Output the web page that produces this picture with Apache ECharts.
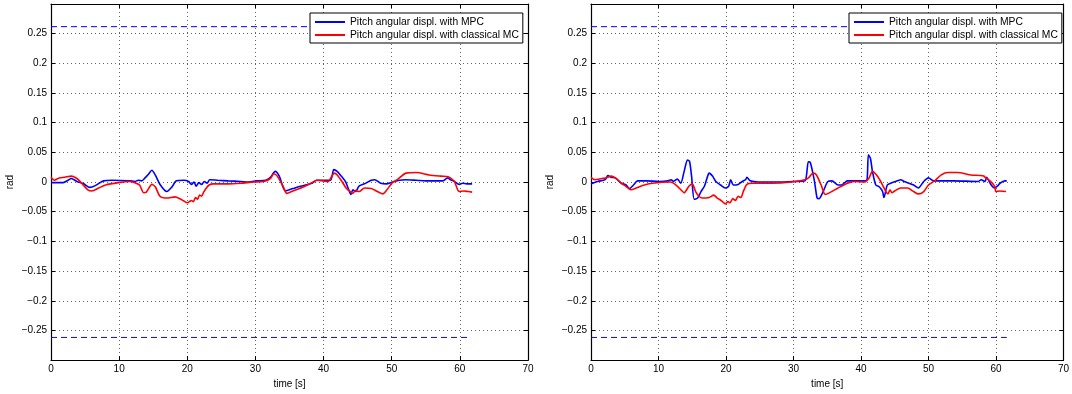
<!DOCTYPE html>
<html>
<head>
<meta charset="utf-8">
<script src="https://cdn.jsdelivr.net/npm/echarts@6/dist/echarts.min.js"></script>
<style>html,body{margin:0;padding:0;background:#fff;}#c{width:1072px;height:394px;}</style>
</head>
<body>
<div id="c"></div>
<script>
// ---------- data ----------
var seriesNames = ['Pitch angular displ. with MPC', 'Pitch angular displ. with classical MC'];
var xTicks = [0, 10, 20, 30, 40, 50, 60, 70];
var yTicks = [-0.25, -0.2, -0.15, -0.1, -0.05, 0, 0.05, 0.1, 0.15, 0.2, 0.25];
var pitchLimit = 0.2618;       // dashed limit lines (rad)
var limitEnd = 61.6;           // s

// Left plot, MPC
var leftMpcT = [0,0.8,1.8,2.5,3.0,3.8,4.8,5.7,6.5,7.7,9,11.6,12.3,12.8,13.3,13.8,14.3,14.8,15.3,16.0,17.0,17.7,18.4,19.5,20.2,20.6,21.0,21.3,21.7,22.1,22.5,22.9,23.3,24.5,26,27.8,29,30.2,31.5,32.2,32.9,33.5,34.4,35.5,36.6,38.3,39.0,41.0,41.5,42.0,42.6,43.2,43.7,44.0,44.3,44.7,45.2,46.0,47.0,47.5,48.4,49.2,50.1,51.1,52.1,53.6,55,57.5,58.2,58.6,59.2,59.9,60.4,61.0,61.8];
var leftMpcV = [-0.001,-0.001,-0.001,0.003,0.006,0.001,-0.003,-0.009,-0.006,0.002,0.003,0.002,0.001,0.003,0.002,0.007,0.013,0.020,0.012,-0.004,-0.016,-0.009,0.002,0.003,0.001,-0.004,0,-0.007,-0.001,-0.004,0.001,-0.002,0.004,0.003,0.002,0.001,0,0.002,0.003,0.008,0.018,0.010,-0.015,-0.011,-0.007,-0.002,0.003,0.003,0.021,0.018,0.010,0.001,-0.013,-0.021,-0.013,-0.016,-0.007,-0.003,0.003,0.004,-0.002,-0.003,0,0.003,0.004,0.003,0.002,0.002,0.007,0.004,0.001,-0.004,-0.002,-0.003,-0.003];

// Left plot, classical MC
var leftMcT = [0,0.5,1.2,2.0,3.0,3.8,4.5,5.4,6.0,7.0,8.0,9.9,11.5,12.3,13.0,13.6,14.0,14.8,15.3,16.0,17.0,18.2,18.9,19.5,20.0,20.3,20.6,20.9,21.2,21.5,21.8,22.1,22.4,22.8,23.2,23.8,26,27.8,29.7,31.2,32.2,32.7,33.2,34.1,34.6,35.5,37.1,38.3,39.0,40.7,41.2,41.6,42.0,42.7,43.3,43.9,44.3,44.7,45.2,46.0,47.0,47.9,48.7,49.3,50.1,50.8,52.1,53.6,55.5,57.2,58.3,58.6,59.2,59.9,60.6,61.2,61.8];
var leftMcV = [0.008,0.003,0.007,0.008,0.010,0.006,-0.002,-0.013,-0.015,-0.010,-0.005,-0.001,0.001,-0.001,-0.005,-0.018,-0.017,-0.004,-0.008,-0.024,-0.027,-0.025,-0.028,-0.032,-0.035,-0.033,-0.031,-0.033,-0.026,-0.029,-0.022,-0.024,-0.017,-0.010,-0.005,-0.003,-0.003,-0.002,0,0.001,0.006,0.014,0.010,-0.008,-0.019,-0.015,-0.008,-0.001,0.003,0.001,0.010,0.015,0.012,0.001,-0.010,-0.016,-0.019,-0.014,-0.016,-0.010,-0.011,-0.016,-0.020,-0.013,-0.001,0.004,0.015,0.016,0.012,0.010,0.009,0.007,0.001,-0.016,-0.015,-0.016,-0.017];

// Right plot, MPC
var rightMpcT = [0,1.0,2.1,2.5,3.0,3.6,4.5,5.2,5.7,6.3,6.9,8.2,10.1,11.4,11.9,12.2,12.8,13.3,13.8,14.3,14.6,14.9,15.3,15.8,16.3,16.8,17.2,17.5,18.0,18.5,19.2,19.9,20.4,20.7,21.1,21.8,22.4,22.9,23.1,23.6,24.8,27.8,30.2,31.7,32.2,32.5,33.1,33.5,33.8,34.4,35.1,35.7,36.6,37.1,38.0,40.5,40.9,41.1,41.4,41.7,42.2,42.7,43.2,43.4,43.9,44.4,45.4,45.9,46.4,47.8,48.5,49.3,50.0,50.8,53.7,57.4,57.8,58.4,58.6,59.3,59.8,60.2,60.6,61.3,61.6];
var rightMpcV = [-0.003,0.001,0.004,0.011,0.008,0.007,-0.002,-0.005,-0.011,-0.005,0.002,0.002,0.001,0.002,0.004,0.001,0.005,-0.002,0.018,0.037,0.035,0.010,-0.029,-0.027,-0.016,-0.007,0.007,0.015,0.010,0.001,-0.005,-0.010,-0.007,0.004,-0.005,-0.004,0.001,0.004,0.008,0.002,0,0,0.001,0.002,0.034,0.033,0.002,-0.027,-0.028,-0.016,0.001,0.002,-0.005,-0.005,0.002,0.002,0.004,0.046,0.040,0.018,-0.005,-0.008,-0.016,-0.026,-0.005,-0.002,0.002,0.004,0.001,-0.005,-0.010,0.001,0.007,0.002,0.002,0.001,0.004,0.001,0.008,-0.005,-0.010,-0.007,-0.002,0.002,0.002];

// Right plot, classical MC
var rightMcT = [0,0.6,1.6,2.3,3.0,3.6,4.5,5.5,5.9,6.9,7.9,9.1,11.8,12.6,13.3,13.8,14.5,15.0,15.5,16.0,16.5,17.5,18.2,18.7,19.4,19.9,20.3,20.6,21.0,21.4,21.8,22.2,22.6,23.1,23.8,26.8,29.7,31.7,32.3,32.9,33.4,34.1,34.7,35.5,36.6,38.0,39.0,40.5,41.2,41.7,42.5,43.2,43.7,44.0,44.3,44.6,45.0,45.9,46.9,47.8,48.5,49.3,50.0,50.8,51.9,52.9,54.3,56.3,57.7,58.2,58.4,59.2,59.8,60.0,60.6,61.5];
var rightMcV = [0.008,0.004,0.006,0.007,0.010,0.007,-0.002,-0.010,-0.013,-0.009,-0.005,-0.002,0,-0.005,-0.013,-0.018,-0.007,-0.003,-0.016,-0.024,-0.027,-0.026,-0.022,-0.027,-0.032,-0.037,-0.033,-0.035,-0.028,-0.031,-0.024,-0.026,-0.015,-0.004,-0.002,-0.002,0,0.004,0.008,0.015,0.012,-0.005,-0.021,-0.017,-0.010,-0.002,0.001,0,0.007,0.018,0.009,-0.005,-0.016,-0.020,-0.013,-0.018,-0.015,-0.010,-0.010,-0.016,-0.020,-0.016,-0.005,0.001,0.012,0.016,0.016,0.012,0.011,0.010,0.008,0.001,-0.007,-0.016,-0.015,-0.016];

// ---------- chart ----------
function zip(t, v) { return t.map(function (x, i) { return [x, v[i]]; }); }
var FONT = 'Liberation Sans, Arial, Helvetica, sans-serif';
var BLUE = '#0000ff', RED = '#ff0000';

function yFmt(v) {
  if (Math.abs(v) > 0.29) return '';
  var r = Math.round(v * 100) / 100;
  var s = String(Math.abs(r));
  return (r < 0 ? '\u2212' : '') + s;
}

var grids = [
  { left: 51, top: 4, width: 477, height: 359 },
  { left: 591, top: 4, width: 477, height: 359 }
];
var xAxes = [], yAxes = [], series = [], legends = [];
var dataSets = [
  [zip(leftMpcT, leftMpcV), zip(leftMcT, leftMcV)],
  [zip(rightMpcT, rightMpcV), zip(rightMcT, rightMcV)]
];
var legendLeft = [310, 849];

for (var g = 0; g < 2; g++) {
  var tickStyle = { show: true, inside: true, length: 4, lineStyle: { color: '#000', width: 1 } };
  var lineStyle = { show: true, onZero: false, lineStyle: { color: '#000', width: 1.2 } };
  xAxes.push({
    type: 'value', gridIndex: g, position: 'bottom', min: xTicks[0], max: xTicks[xTicks.length - 1], interval: 10,
    axisLine: lineStyle, axisTick: tickStyle,
    axisLabel: { color: '#000', fontFamily: FONT, fontSize: 10, margin: 4 },
    splitLine: { show: true, lineStyle: { color: '#666', type: [1, 3], width: 1 } },
    name: 'time [s]', nameLocation: 'middle', nameGap: 15,
    nameTextStyle: { color: '#000', fontFamily: FONT, fontSize: 10 }
  });
  xAxes.push({
    type: 'value', gridIndex: g, position: 'top', min: 0, max: 70, interval: 10,
    axisLine: lineStyle, axisTick: tickStyle, axisLabel: { show: false }, splitLine: { show: false }
  });
  yAxes.push({
    type: 'value', gridIndex: g, position: 'left', min: -0.3, max: 0.3, interval: 0.05,
    axisLine: lineStyle, axisTick: tickStyle,
    axisLabel: { color: '#000', fontFamily: FONT, fontSize: 10, margin: 4, formatter: yFmt },
    splitLine: { show: true, lineStyle: { color: '#666', type: [1, 3], width: 1 } },
    name: 'rad', nameLocation: 'middle', nameGap: 36, nameRotate: 90,
    nameTextStyle: { color: '#000', fontFamily: FONT, fontSize: 10 }
  });
  yAxes.push({
    type: 'value', gridIndex: g, position: 'right', min: -0.3, max: 0.3, interval: 0.05,
    axisLine: lineStyle, axisTick: tickStyle, axisLabel: { show: false }, splitLine: { show: false }
  });
  var xi = g * 2, yi = g * 2;
  series.push({
    type: 'line', xAxisIndex: xi, yAxisIndex: yi, silent: true, symbol: 'none', z: 1,
    data: [[0, pitchLimit], [limitEnd, pitchLimit]],
    lineStyle: { color: BLUE, width: 1, type: [6, 4] }
  });
  series.push({
    type: 'line', xAxisIndex: xi, yAxisIndex: yi, silent: true, symbol: 'none', z: 1,
    data: [[0, -pitchLimit], [limitEnd, -pitchLimit]],
    lineStyle: { color: '#10109a', width: 1, type: [6, 4] }
  });
  series.push({
    name: seriesNames[0], type: 'line', xAxisIndex: xi, yAxisIndex: yi, symbol: 'none', showSymbol: false, z: 2,
    smooth: 0.25, data: dataSets[g][0], color: BLUE, lineStyle: { color: BLUE, width: 1.6 }
  });
  series.push({
    name: seriesNames[1], type: 'line', xAxisIndex: xi, yAxisIndex: yi, symbol: 'none', showSymbol: false, z: 3,
    smooth: 0.25, data: dataSets[g][1], color: RED, lineStyle: { color: RED, width: 1.6 }
  });
  legends.push({
    data: seriesNames, orient: 'vertical', left: legendLeft[g], top: 13,
    icon: 'rect', itemWidth: 30, itemHeight: 2, itemGap: 1,
    padding: [3, 4, 2, 5], borderColor: '#000', borderWidth: 1, backgroundColor: '#fff',
    textStyle: { color: '#000', fontFamily: FONT, fontSize: 10.3, lineHeight: 12 },
    selectedMode: false, z: 10
  });
}

var chart = echarts.init(document.getElementById('c'), null, { renderer: 'canvas' });
chart.setOption({
  animation: false,
  backgroundColor: '#fff',
  grid: grids,
  xAxis: xAxes,
  yAxis: yAxes,
  legend: legends,
  series: series
});
</script>
</body>
</html>
